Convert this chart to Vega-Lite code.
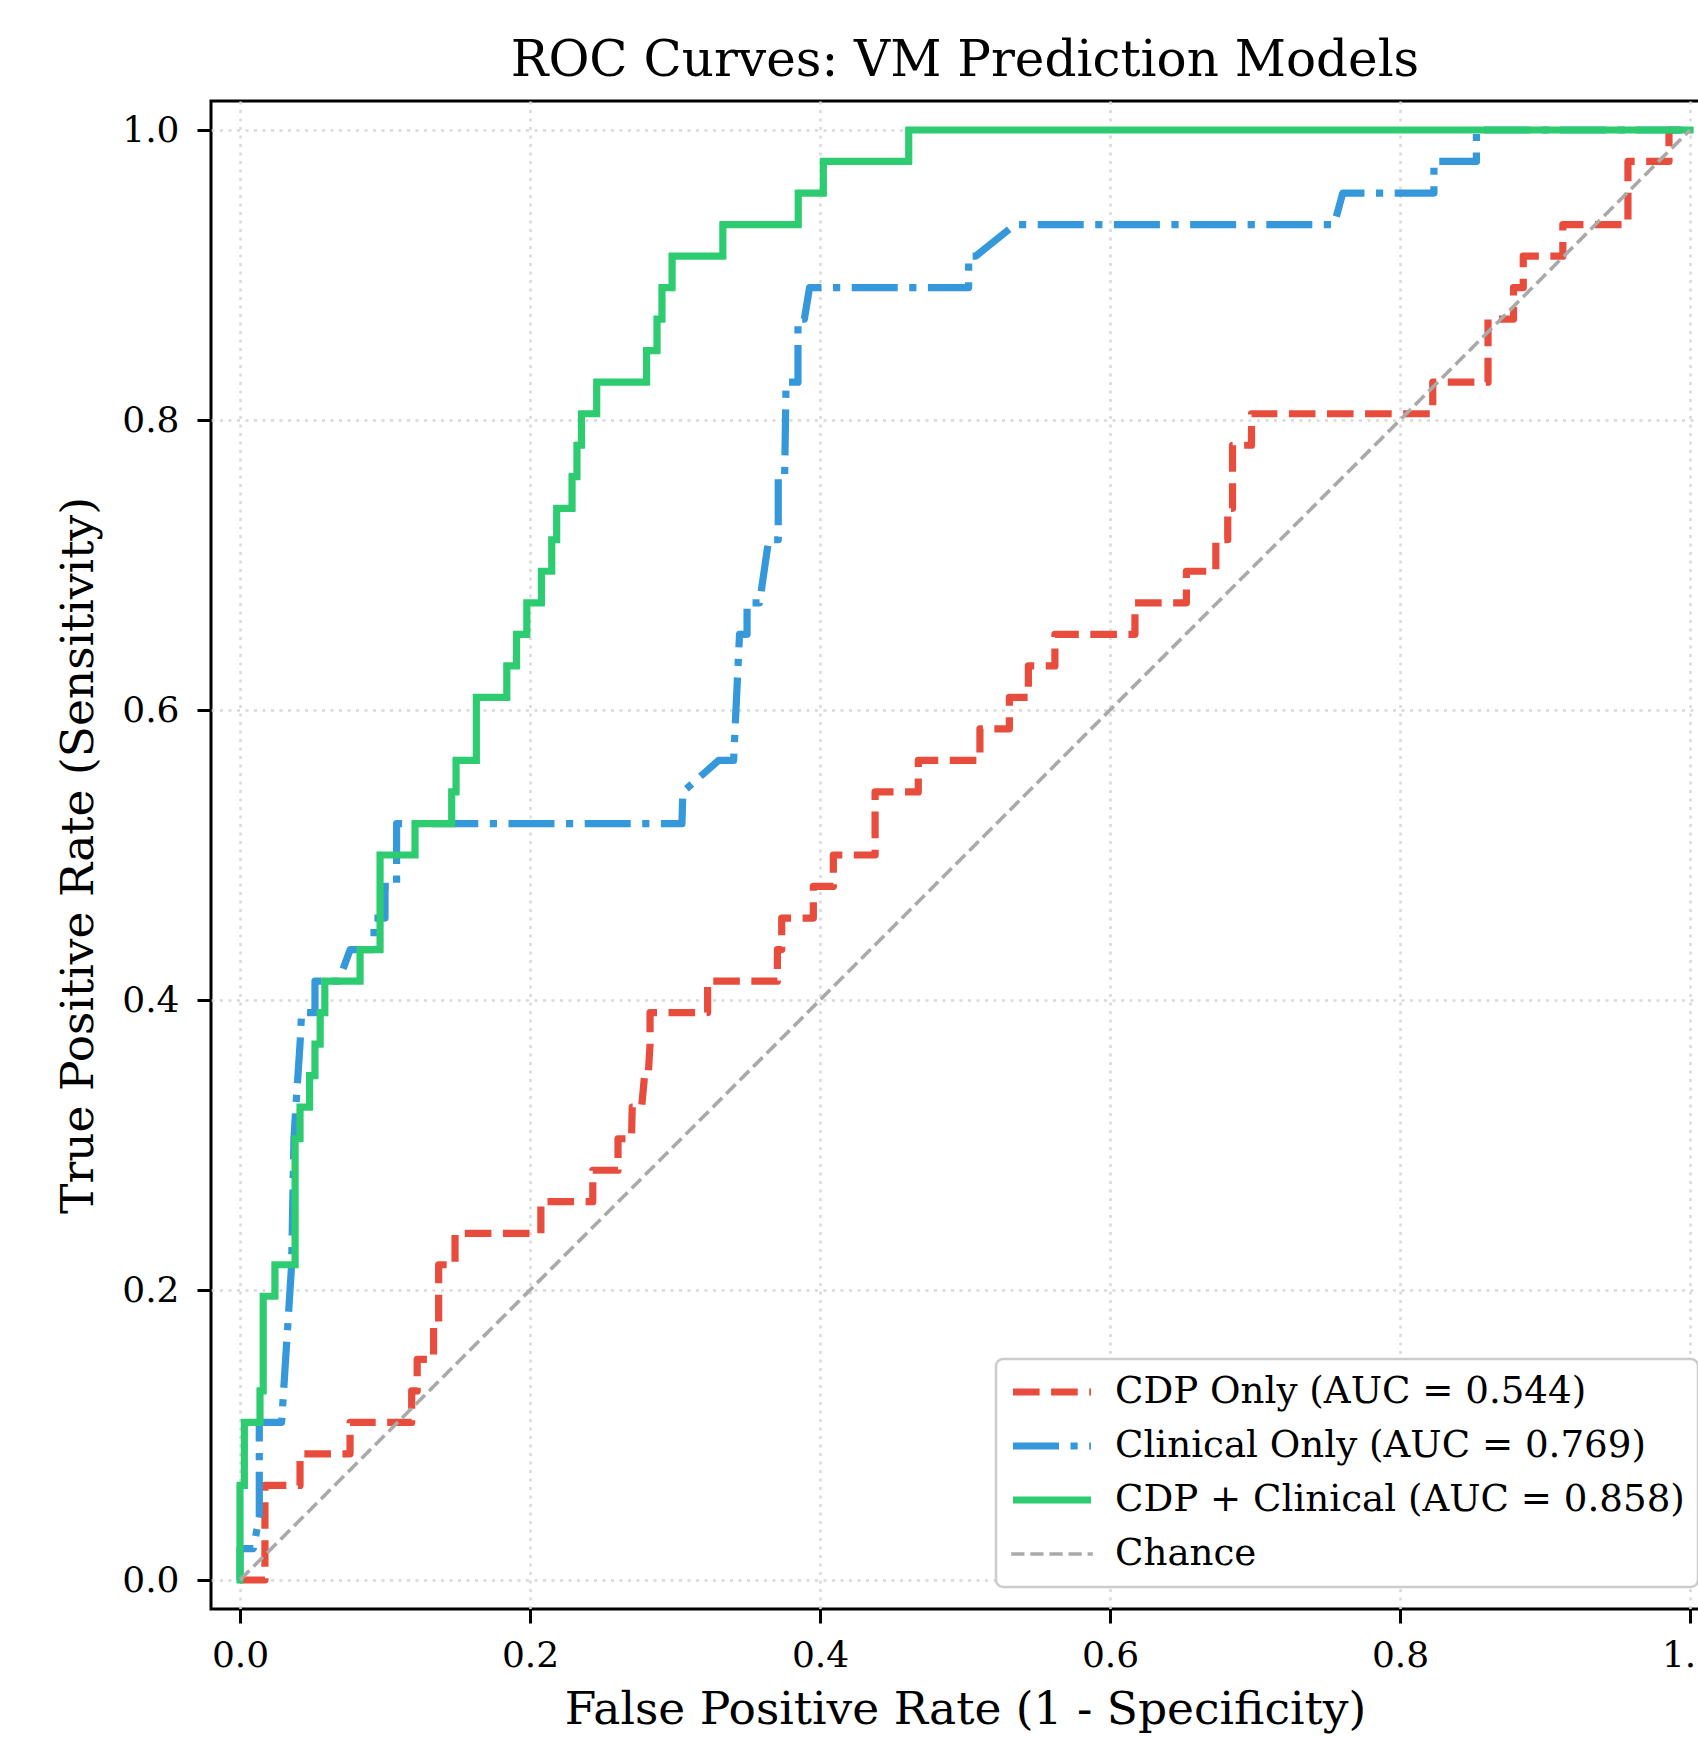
{
  "$schema": "https://vega.github.io/schema/vega-lite/v6.json",
  "width": 1508,
  "height": 1508,
  "autosize": {"type": "none"},
  "padding": {"left": 211, "top": 101, "right": -21, "bottom": 130},
  "background": "white",
  "config": {
    "view": {"stroke": "black", "strokeWidth": 3},
    "font": "DejaVu Serif",
    "axis": {
      "domain": false,
      "tickColor": "black", "tickWidth": 3, "tickSize": 14,
      "labelFont": "DejaVu Serif", "labelFontSize": 36, "labelColor": "black",
      "labelFlush": false, "labelOverlap": false,
      "titleFont": "DejaVu Serif", "titleFontSize": 45.5, "titleFontWeight": "normal", "titleColor": "black",
      "gridColor": "#d9d9d9", "gridWidth": 2.5, "gridDash": [3, 5.5]
    }
  },
  "title": {
    "text": "ROC Curves: VM Prediction Models",
    "font": "DejaVu Serif", "fontSize": 50, "fontWeight": "normal", "color": "black",
    "anchor": "middle", "frame": "group", "baseline": "alphabetic", "offset": 23.5, "dy": 48
  },
  "data": {"values": [
    {"m":"cdp","x":0,"y":0},{"m":"cdp","x":0.0172,"y":0},{"m":"cdp","x":0.0172,"y":0.0652},{"m":"cdp","x":0.0414,"y":0.0652},
    {"m":"cdp","x":0.0414,"y":0.087},{"m":"cdp","x":0.0759,"y":0.087},{"m":"cdp","x":0.0759,"y":0.1087},{"m":"cdp","x":0.1184,"y":0.1087},
    {"m":"cdp","x":0.1184,"y":0.1304},{"m":"cdp","x":0.1222,"y":0.1304},{"m":"cdp","x":0.1222,"y":0.1522},{"m":"cdp","x":0.1335,"y":0.1522},
    {"m":"cdp","x":0.1335,"y":0.1739},{"m":"cdp","x":0.137,"y":0.1739},{"m":"cdp","x":0.137,"y":0.2174},{"m":"cdp","x":0.1483,"y":0.2174},
    {"m":"cdp","x":0.1483,"y":0.2391},{"m":"cdp","x":0.2075,"y":0.2391},{"m":"cdp","x":0.2075,"y":0.2609},{"m":"cdp","x":0.2433,"y":0.2609},
    {"m":"cdp","x":0.2433,"y":0.2826},{"m":"cdp","x":0.2607,"y":0.2826},{"m":"cdp","x":0.2607,"y":0.3043},{"m":"cdp","x":0.27,"y":0.3043},
    {"m":"cdp","x":0.2705,"y":0.3261},{"m":"cdp","x":0.277,"y":0.3261},{"m":"cdp","x":0.279,"y":0.3478},{"m":"cdp","x":0.2815,"y":0.3478},
    {"m":"cdp","x":0.2828,"y":0.3696},{"m":"cdp","x":0.2828,"y":0.3913},{"m":"cdp","x":0.3225,"y":0.3913},{"m":"cdp","x":0.3225,"y":0.413},
    {"m":"cdp","x":0.3706,"y":0.413},{"m":"cdp","x":0.3706,"y":0.4348},{"m":"cdp","x":0.3736,"y":0.4348},{"m":"cdp","x":0.3736,"y":0.4565},
    {"m":"cdp","x":0.3954,"y":0.4565},{"m":"cdp","x":0.3954,"y":0.4783},{"m":"cdp","x":0.4092,"y":0.4783},{"m":"cdp","x":0.4092,"y":0.5},
    {"m":"cdp","x":0.438,"y":0.5},{"m":"cdp","x":0.438,"y":0.5435},{"m":"cdp","x":0.4678,"y":0.5435},{"m":"cdp","x":0.4678,"y":0.5652},
    {"m":"cdp","x":0.5103,"y":0.5652},{"m":"cdp","x":0.5103,"y":0.587},{"m":"cdp","x":0.5306,"y":0.587},{"m":"cdp","x":0.5306,"y":0.6087},
    {"m":"cdp","x":0.5437,"y":0.6087},{"m":"cdp","x":0.5437,"y":0.6304},{"m":"cdp","x":0.562,"y":0.6304},{"m":"cdp","x":0.562,"y":0.6522},
    {"m":"cdp","x":0.6172,"y":0.6522},{"m":"cdp","x":0.6172,"y":0.6739},{"m":"cdp","x":0.6527,"y":0.6739},{"m":"cdp","x":0.6527,"y":0.6957},
    {"m":"cdp","x":0.673,"y":0.6957},{"m":"cdp","x":0.673,"y":0.7174},{"m":"cdp","x":0.6812,"y":0.7174},{"m":"cdp","x":0.6812,"y":0.7391},
    {"m":"cdp","x":0.6845,"y":0.7391},{"m":"cdp","x":0.6845,"y":0.7826},{"m":"cdp","x":0.6976,"y":0.7826},{"m":"cdp","x":0.6976,"y":0.8043},
    {"m":"cdp","x":0.8226,"y":0.8043},{"m":"cdp","x":0.8226,"y":0.8261},{"m":"cdp","x":0.8607,"y":0.8261},{"m":"cdp","x":0.8607,"y":0.8696},
    {"m":"cdp","x":0.8783,"y":0.8696},{"m":"cdp","x":0.8783,"y":0.8913},{"m":"cdp","x":0.885,"y":0.8913},{"m":"cdp","x":0.885,"y":0.913},
    {"m":"cdp","x":0.9123,"y":0.913},{"m":"cdp","x":0.9123,"y":0.9348},{"m":"cdp","x":0.9572,"y":0.9348},{"m":"cdp","x":0.9572,"y":0.9783},
    {"m":"cdp","x":0.9855,"y":0.9783},{"m":"cdp","x":0.9855,"y":1},{"m":"cdp","x":1,"y":1},

    {"m":"clin","x":0,"y":0},{"m":"clin","x":0,"y":0.0217},{"m":"clin","x":0.0092,"y":0.0217},{"m":"clin","x":0.0133,"y":0.0435},
    {"m":"clin","x":0.0133,"y":0.1087},{"m":"clin","x":0.0287,"y":0.1087},{"m":"clin","x":0.0356,"y":0.2174},{"m":"clin","x":0.0372,"y":0.3043},
    {"m":"clin","x":0.0385,"y":0.3261},{"m":"clin","x":0.0414,"y":0.3696},{"m":"clin","x":0.0425,"y":0.3913},{"m":"clin","x":0.0517,"y":0.3913},
    {"m":"clin","x":0.0517,"y":0.413},{"m":"clin","x":0.068,"y":0.413},{"m":"clin","x":0.076,"y":0.4348},{"m":"clin","x":0.0924,"y":0.4348},
    {"m":"clin","x":0.0924,"y":0.4565},{"m":"clin","x":0.1,"y":0.4565},{"m":"clin","x":0.1,"y":0.4783},{"m":"clin","x":0.108,"y":0.4783},
    {"m":"clin","x":0.108,"y":0.5217},{"m":"clin","x":0.3048,"y":0.5217},{"m":"clin","x":0.3054,"y":0.5435},{"m":"clin","x":0.33,"y":0.5652},
    {"m":"clin","x":0.3404,"y":0.5652},{"m":"clin","x":0.3445,"y":0.6522},{"m":"clin","x":0.3497,"y":0.6522},{"m":"clin","x":0.3497,"y":0.6739},
    {"m":"clin","x":0.3583,"y":0.6739},{"m":"clin","x":0.3646,"y":0.7174},{"m":"clin","x":0.3712,"y":0.7174},{"m":"clin","x":0.3712,"y":0.7609},
    {"m":"clin","x":0.3756,"y":0.7609},{"m":"clin","x":0.3766,"y":0.8261},{"m":"clin","x":0.3848,"y":0.8261},{"m":"clin","x":0.3848,"y":0.8696},
    {"m":"clin","x":0.3892,"y":0.8696},{"m":"clin","x":0.3928,"y":0.8913},{"m":"clin","x":0.5025,"y":0.8913},{"m":"clin","x":0.5025,"y":0.913},
    {"m":"clin","x":0.5074,"y":0.913},{"m":"clin","x":0.5345,"y":0.9348},{"m":"clin","x":0.7546,"y":0.9348},{"m":"clin","x":0.7605,"y":0.9565},
    {"m":"clin","x":0.8234,"y":0.9565},{"m":"clin","x":0.8234,"y":0.9783},{"m":"clin","x":0.8527,"y":0.9783},{"m":"clin","x":0.8527,"y":1},
    {"m":"clin","x":1,"y":1},

    {"m":"both","x":0,"y":0},{"m":"both","x":0,"y":0.0652},{"m":"both","x":0.003,"y":0.0652},{"m":"both","x":0.003,"y":0.1087},
    {"m":"both","x":0.0138,"y":0.1087},{"m":"both","x":0.0138,"y":0.1304},{"m":"both","x":0.016,"y":0.1304},{"m":"both","x":0.016,"y":0.1957},
    {"m":"both","x":0.0241,"y":0.1957},{"m":"both","x":0.0241,"y":0.2174},{"m":"both","x":0.038,"y":0.2174},{"m":"both","x":0.038,"y":0.3043},
    {"m":"both","x":0.0414,"y":0.3043},{"m":"both","x":0.0414,"y":0.3261},{"m":"both","x":0.048,"y":0.3261},{"m":"both","x":0.048,"y":0.3478},
    {"m":"both","x":0.0517,"y":0.3478},{"m":"both","x":0.0517,"y":0.3696},{"m":"both","x":0.0553,"y":0.3696},{"m":"both","x":0.0553,"y":0.3913},
    {"m":"both","x":0.0585,"y":0.3913},{"m":"both","x":0.0585,"y":0.413},{"m":"both","x":0.0828,"y":0.413},{"m":"both","x":0.0828,"y":0.4348},
    {"m":"both","x":0.0966,"y":0.4348},{"m":"both","x":0.0966,"y":0.5},{"m":"both","x":0.1207,"y":0.5},{"m":"both","x":0.1207,"y":0.5217},
    {"m":"both","x":0.146,"y":0.5217},{"m":"both","x":0.146,"y":0.5435},{"m":"both","x":0.149,"y":0.5435},{"m":"both","x":0.149,"y":0.5652},
    {"m":"both","x":0.163,"y":0.5652},{"m":"both","x":0.163,"y":0.6087},{"m":"both","x":0.184,"y":0.6087},{"m":"both","x":0.184,"y":0.6304},
    {"m":"both","x":0.1907,"y":0.6304},{"m":"both","x":0.1907,"y":0.6522},{"m":"both","x":0.1978,"y":0.6522},{"m":"both","x":0.1978,"y":0.6739},
    {"m":"both","x":0.2079,"y":0.6739},{"m":"both","x":0.2079,"y":0.6957},{"m":"both","x":0.215,"y":0.6957},{"m":"both","x":0.215,"y":0.7174},
    {"m":"both","x":0.2184,"y":0.7174},{"m":"both","x":0.2184,"y":0.7391},{"m":"both","x":0.229,"y":0.7391},{"m":"both","x":0.229,"y":0.7609},
    {"m":"both","x":0.2324,"y":0.7609},{"m":"both","x":0.2324,"y":0.7826},{"m":"both","x":0.2355,"y":0.7826},{"m":"both","x":0.2355,"y":0.8043},
    {"m":"both","x":0.246,"y":0.8043},{"m":"both","x":0.246,"y":0.8261},{"m":"both","x":0.2804,"y":0.8261},{"m":"both","x":0.2804,"y":0.8478},
    {"m":"both","x":0.2876,"y":0.8478},{"m":"both","x":0.2876,"y":0.8696},{"m":"both","x":0.291,"y":0.8696},{"m":"both","x":0.291,"y":0.8913},
    {"m":"both","x":0.298,"y":0.8913},{"m":"both","x":0.298,"y":0.913},{"m":"both","x":0.333,"y":0.913},{"m":"both","x":0.333,"y":0.9348},
    {"m":"both","x":0.385,"y":0.9348},{"m":"both","x":0.385,"y":0.9565},{"m":"both","x":0.4023,"y":0.9565},{"m":"both","x":0.4023,"y":0.9783},
    {"m":"both","x":0.4612,"y":0.9783},{"m":"both","x":0.4612,"y":1},{"m":"both","x":1,"y":1},

    {"m":"chance","x":0,"y":0},{"m":"chance","x":1,"y":1}
  ]},
  "encoding": {
    "x": {
      "field": "x", "type": "quantitative",
      "scale": {"domain": [-0.02, 1.02], "nice": false, "zero": false},
      "axis": {
        "values": [0, 0.2, 0.4, 0.6, 0.8, 1], "format": ".1f", "labelPadding": 15, "grid": true,
        "title": "False Positive Rate (1 - Specificity)", "titleX": 754, "titleY": 114,
        "titleBaseline": "alphabetic", "titleAlign": "center"
      }
    },
    "y": {
      "field": "y", "type": "quantitative",
      "scale": {"domain": [-0.02, 1.02], "nice": false, "zero": false},
      "axis": {
        "values": [0, 0.2, 0.4, 0.6, 0.8, 1], "format": ".1f", "labelPadding": 18, "grid": true,
        "title": "True Positive Rate (Sensitivity)", "titleX": -119, "titleY": 754,
        "titleBaseline": "alphabetic", "titleAlign": "center", "titleAngle": 270
      }
    },
    "color": {
      "field": "m", "type": "nominal",
      "scale": {"domain": ["cdp", "clin", "both", "chance"], "range": ["#e74c3c", "#3498db", "#2ecc71", "#aaaaaa"]},
      "legend": {
        "title": null, "orient": "none", "legendX": 785, "legendY": 1258,
        "labelExpr": "datum.label == 'cdp' ? 'CDP Only (AUC = 0.544)' : datum.label == 'clin' ? 'Clinical Only (AUC = 0.769)' : datum.label == 'both' ? 'CDP + Clinical (AUC = 0.858)' : 'Chance'",
        "symbolType": "stroke", "symbolSize": 6084, "symbolStrokeWidth": 7.2,
        "clipHeight": 40,
        "labelOffset": 20, "symbolOffset": 0, "padding": 13, "rowPadding": 14,
        "fillColor": "white", "strokeColor": "#cccccc", "cornerRadius": 7,
        "labelFont": "DejaVu Serif", "labelFontSize": 37.2, "labelColor": "black", "labelLimit": 0,
        "encode": {
          "legend": {"update": {"strokeWidth": {"value": 2.5}}},
          "symbols": {"update": {
            "strokeWidth": {"signal": "(datum.value === 'chance' ? 3.6 : 7.2)"},
            "size": {"signal": "(datum.value === 'chance' ? 6659 : 6084)"}
          }}
        }
      }
    },
    "strokeDash": {
      "field": "m", "type": "nominal",
      "scale": {"domain": ["cdp", "clin", "both", "chance"], "range": [[26.6, 11.5], [46, 11.5, 7.2, 11.5], [1, 0], [13.3, 5.8]]},
      "legend": {
        "title": null, "orient": "none", "legendX": 785, "legendY": 1258,
        "labelExpr": "datum.label == 'cdp' ? 'CDP Only (AUC = 0.544)' : datum.label == 'clin' ? 'Clinical Only (AUC = 0.769)' : datum.label == 'both' ? 'CDP + Clinical (AUC = 0.858)' : 'Chance'",
        "symbolType": "stroke", "symbolSize": 6084, "symbolStrokeWidth": 7.2,
        "clipHeight": 40,
        "labelOffset": 20, "symbolOffset": 0, "padding": 13, "rowPadding": 14,
        "fillColor": "white", "strokeColor": "#cccccc", "cornerRadius": 7,
        "labelFont": "DejaVu Serif", "labelFontSize": 37.2, "labelColor": "black", "labelLimit": 0,
        "encode": {
          "legend": {"update": {"strokeWidth": {"value": 2.5}}},
          "symbols": {"update": {
            "strokeWidth": {"signal": "(datum.value === 'chance' ? 3.6 : 7.2)"},
            "size": {"signal": "(datum.value === 'chance' ? 6659 : 6084)"}
          }}
        }
      }
    }
  },
  "layer": [
    {
      "transform": [{"filter": "datum.m === 'cdp'"}],
      "mark": {"type": "line", "strokeWidth": 7.2, "strokeCap": "butt", "strokeJoin": "round"}
    },
    {
      "transform": [{"filter": "datum.m === 'clin'"}],
      "mark": {"type": "line", "strokeWidth": 7.2, "strokeCap": "butt", "strokeJoin": "round"}
    },
    {
      "transform": [{"filter": "datum.m === 'both'"}],
      "mark": {"type": "line", "strokeWidth": 7.2, "strokeCap": "square", "strokeJoin": "round"}
    },
    {
      "transform": [{"filter": "datum.m === 'chance'"}],
      "mark": {"type": "line", "strokeWidth": 3.6, "strokeCap": "butt", "strokeJoin": "round"}
    }
  ]
}
